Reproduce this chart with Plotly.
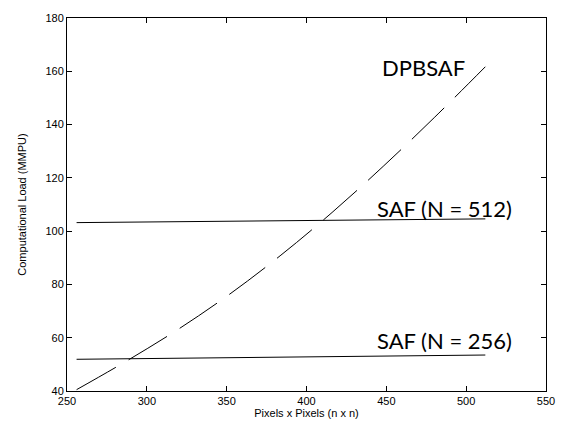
import plotly.graph_objects as go

# Data
n_vals = [256, 288, 320, 352, 384, 416, 448, 480, 512]
dpbsaf = [40.5, 51.5, 63.3, 76.4, 91.0, 107.0, 124.3, 142.6, 161.7]

saf_n = [256, 312, 394, 460, 512]
saf_512 = [103.2, 103.5, 103.9, 104.3, 104.6]
saf_256 = [51.9, 52.2, 52.6, 53.0, 53.5]

x_ticks = [250, 300, 350, 400, 450, 500, 550]
y_ticks = [40, 60, 80, 100, 120, 140, 160, 180]

labels = ["DPBSAF", "SAF (N = 512)", "SAF (N = 256)"]
label_x = [473.3, 486.3, 486.3]
label_y = [161.4, 108.6, 59.0]

fig = go.Figure()
fig.add_trace(go.Scatter(x=saf_n, y=saf_512, mode="lines",
                         line=dict(color="black", width=1), showlegend=False))
fig.add_trace(go.Scatter(x=saf_n, y=saf_256, mode="lines",
                         line=dict(color="black", width=1), showlegend=False))
fig.add_trace(go.Scatter(x=n_vals, y=dpbsaf, mode="lines",
                         line=dict(color="black", width=1, dash="45px,15px", shape="spline"),
                         showlegend=False))

for t, xx, yy in zip(labels, label_x, label_y):
    fig.add_annotation(x=xx, y=yy, text=t, showarrow=False,
                       font=dict(family="Lato", size=22, color="black"),
                       xanchor="center", yanchor="middle")

axis_common = dict(showgrid=False, zeroline=False, showline=True, linecolor="black",
                   linewidth=1, mirror="ticks", ticks="inside", ticklen=5,
                   tickcolor="black", ticklabeloverflow="allow",
                   tickfont=dict(family="Liberation Sans", size=11, color="black"))

fig.update_xaxes(range=[250, 550], tickvals=x_ticks,
                 title=dict(text="Pixels x Pixels (n x n)", standoff=2,
                            font=dict(family="Liberation Sans", size=11, color="black")),
                 **axis_common)
fig.update_yaxes(range=[40, 180], tickvals=y_ticks,
                 title=dict(text="Computational Load (MMPU)", standoff=16,
                            font=dict(family="Liberation Sans", size=11, color="black")),
                 **axis_common)

fig.update_layout(width=567, height=431,
                  margin=dict(l=67, r=19, t=12, b=40, pad=0),
                  plot_bgcolor="white", paper_bgcolor="white")

fig.write_html("out.html", config={"displayModeBar": False, "staticPlot": True},
               post_script="document.body.style.margin='0';document.body.style.overflow='hidden';")
